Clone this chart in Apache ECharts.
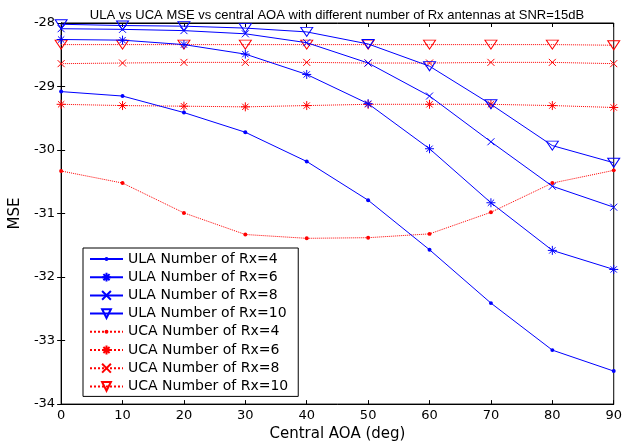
<!DOCTYPE html>
<html>
<head>
<meta charset="utf-8">
<script src="https://cdn.jsdelivr.net/npm/echarts@6/dist/echarts.min.js"></script>
<style>html,body{margin:0;padding:0;background:#fff;}#chart{width:625px;height:447px;}</style>
</head>
<body>
<div id="chart"></div>
<script>
var titleText = 'ULA vs UCA MSE vs central AOA with different number of Rx antennas at SNR=15dB';
var xName = 'Central AOA (deg)';
var yName = 'MSE';
var aoa = [0, 10, 20, 30, 40, 50, 60, 70, 80, 90];
var ula4 = [-29.08, -29.15, -29.41, -29.72, -30.18, -30.79, -31.57, -32.41, -33.15, -33.48];
var ula6 = [-28.26, -28.27, -28.34, -28.49, -28.81, -29.27, -29.98, -30.83, -31.58, -31.88];
var ula8 = [-28.09, -28.10, -28.12, -28.17, -28.31, -28.63, -29.15, -29.87, -30.57, -30.90];
var ula10 = [-28.02, -28.04, -28.05, -28.08, -28.14, -28.33, -28.68, -29.28, -29.93, -30.20];
var uca4 = [-30.33, -30.52, -30.99, -31.33, -31.39, -31.38, -31.32, -30.98, -30.52, -30.32];
var uca6 = [-29.28, -29.30, -29.31, -29.32, -29.30, -29.28, -29.28, -29.28, -29.30, -29.33];
var uca8 = [-28.64, -28.63, -28.62, -28.62, -28.62, -28.63, -28.63, -28.62, -28.62, -28.64];
var uca10 = [-28.34, -28.34, -28.34, -28.34, -28.34, -28.34, -28.34, -28.34, -28.34, -28.35];
var seriesNames = ['ULA Number of Rx=4', 'ULA Number of Rx=6', 'ULA Number of Rx=8', 'ULA Number of Rx=10',
                   'UCA Number of Rx=4', 'UCA Number of Rx=6', 'UCA Number of Rx=8', 'UCA Number of Rx=10'];
var seriesValues = [ula4, ula6, ula8, ula10, uca4, uca6, uca8, uca10];

var BLUE = '#0000ff', RED = '#ff0000';
var DOT = 'path://M0 0M10 10M5 2.8A2.2 2.2 0 1 1 5 7.2A2.2 2.2 0 1 1 5 2.8Z';
var STAR = 'path://M5 0L5 10M0 5L10 5M1.5 1.5L8.5 8.5M8.5 1.5L1.5 8.5';
var XMARK = 'path://M0 0L10 10M10 0L0 10';
var TRI = 'path://M0 0L10 0L5 8Z';
var markers = [
  {symbol: DOT, size: 9, fill: true},
  {symbol: STAR, size: 9, fill: false},
  {symbol: XMARK, size: 7, fill: false},
  {symbol: TRI, size: [12, 9], fill: false}
];

function pairs(vals) { return aoa.map(function (a, i) { return [a, vals[i]]; }); }

var series = seriesValues.map(function (vals, k) {
  var isULA = k < 4;
  var col = isULA ? BLUE : RED;
  var m = markers[k % 4];
  return {
    name: seriesNames[k],
    type: 'line',
    data: pairs(vals),
    symbol: m.symbol,
    symbolSize: m.size,
    symbolKeepAspect: false,
    showAllSymbol: true,
    lineStyle: {color: col, width: 1, type: isULA ? 'solid' : 'dotted'},
    itemStyle: {color: m.fill ? col : 'none', borderColor: col, borderWidth: m.fill ? 0 : 1},
    emphasis: {disabled: true},
    z: isULA ? 3 : 2
  };
});

var FONT = 'DejaVu Sans';
var chart = echarts.init(document.getElementById('chart'), null, {renderer: 'canvas'});
chart.setOption({
  animation: false,
  backgroundColor: '#fff',
  title: {
    text: titleText, left: 337, top: 9, textAlign: 'center', padding: 0,
    textStyle: {fontFamily: 'Liberation Sans', fontSize: 13, fontWeight: 'normal', color: '#000'}
  },
  grid: {left: 61, right: 10, top: 23, bottom: 35, show: true, borderColor: '#000', borderWidth: 1, backgroundColor: 'transparent'},
  legend: {
    orient: 'vertical', left: 83, top: 248,
    padding: [4, 10, 3, 6], itemGap: 4.2, itemWidth: 33, itemHeight: 11,
    backgroundColor: '#fff', borderColor: '#000', borderWidth: 1,
    textStyle: {fontFamily: FONT, fontSize: 14, color: '#000', lineHeight: 14, padding: [0,0,0,0]},
    data: seriesNames
  },
  xAxis: [{
    type: 'value', min: 0, max: 90, interval: 10,
    name: xName, nameLocation: 'middle', nameGap: 17,
    nameTextStyle: {fontFamily: FONT, fontSize: 15, color: '#000'},
    axisLine: {show: true, lineStyle: {color: '#000', width: 1}},
    axisTick: {show: true, inside: true, length: 4, lineStyle: {color: '#000'}},
    axisLabel: {fontFamily: FONT, fontSize: 13, color: '#000', margin: 5},
    splitLine: {show: false}
  }, {
    type: 'value', min: 0, max: 90, interval: 10, position: 'top',
    axisLine: {show: true, lineStyle: {color: '#000'}},
    axisTick: {show: true, inside: true, length: 4, lineStyle: {color: '#000'}},
    axisLabel: {show: false}, splitLine: {show: false}
  }],
  yAxis: [{
    type: 'value', min: -34, max: -28, interval: 1,
    name: yName, nameLocation: 'middle', nameGap: 38,
    nameTextStyle: {fontFamily: FONT, fontSize: 15, color: '#000'},
    axisLine: {show: true, lineStyle: {color: '#000', width: 1}},
    axisTick: {show: true, inside: true, length: 4, lineStyle: {color: '#000'}},
    axisLabel: {fontFamily: FONT, fontSize: 13, color: '#000', margin: 6},
    splitLine: {show: false}
  }, {
    type: 'value', min: -34, max: -28, interval: 1, position: 'right',
    axisLine: {show: true, lineStyle: {color: '#000'}},
    axisTick: {show: true, inside: true, length: 4, lineStyle: {color: '#000'}},
    axisLabel: {show: false}, splitLine: {show: false}
  }],
  series: series
});
</script>
</body>
</html>
